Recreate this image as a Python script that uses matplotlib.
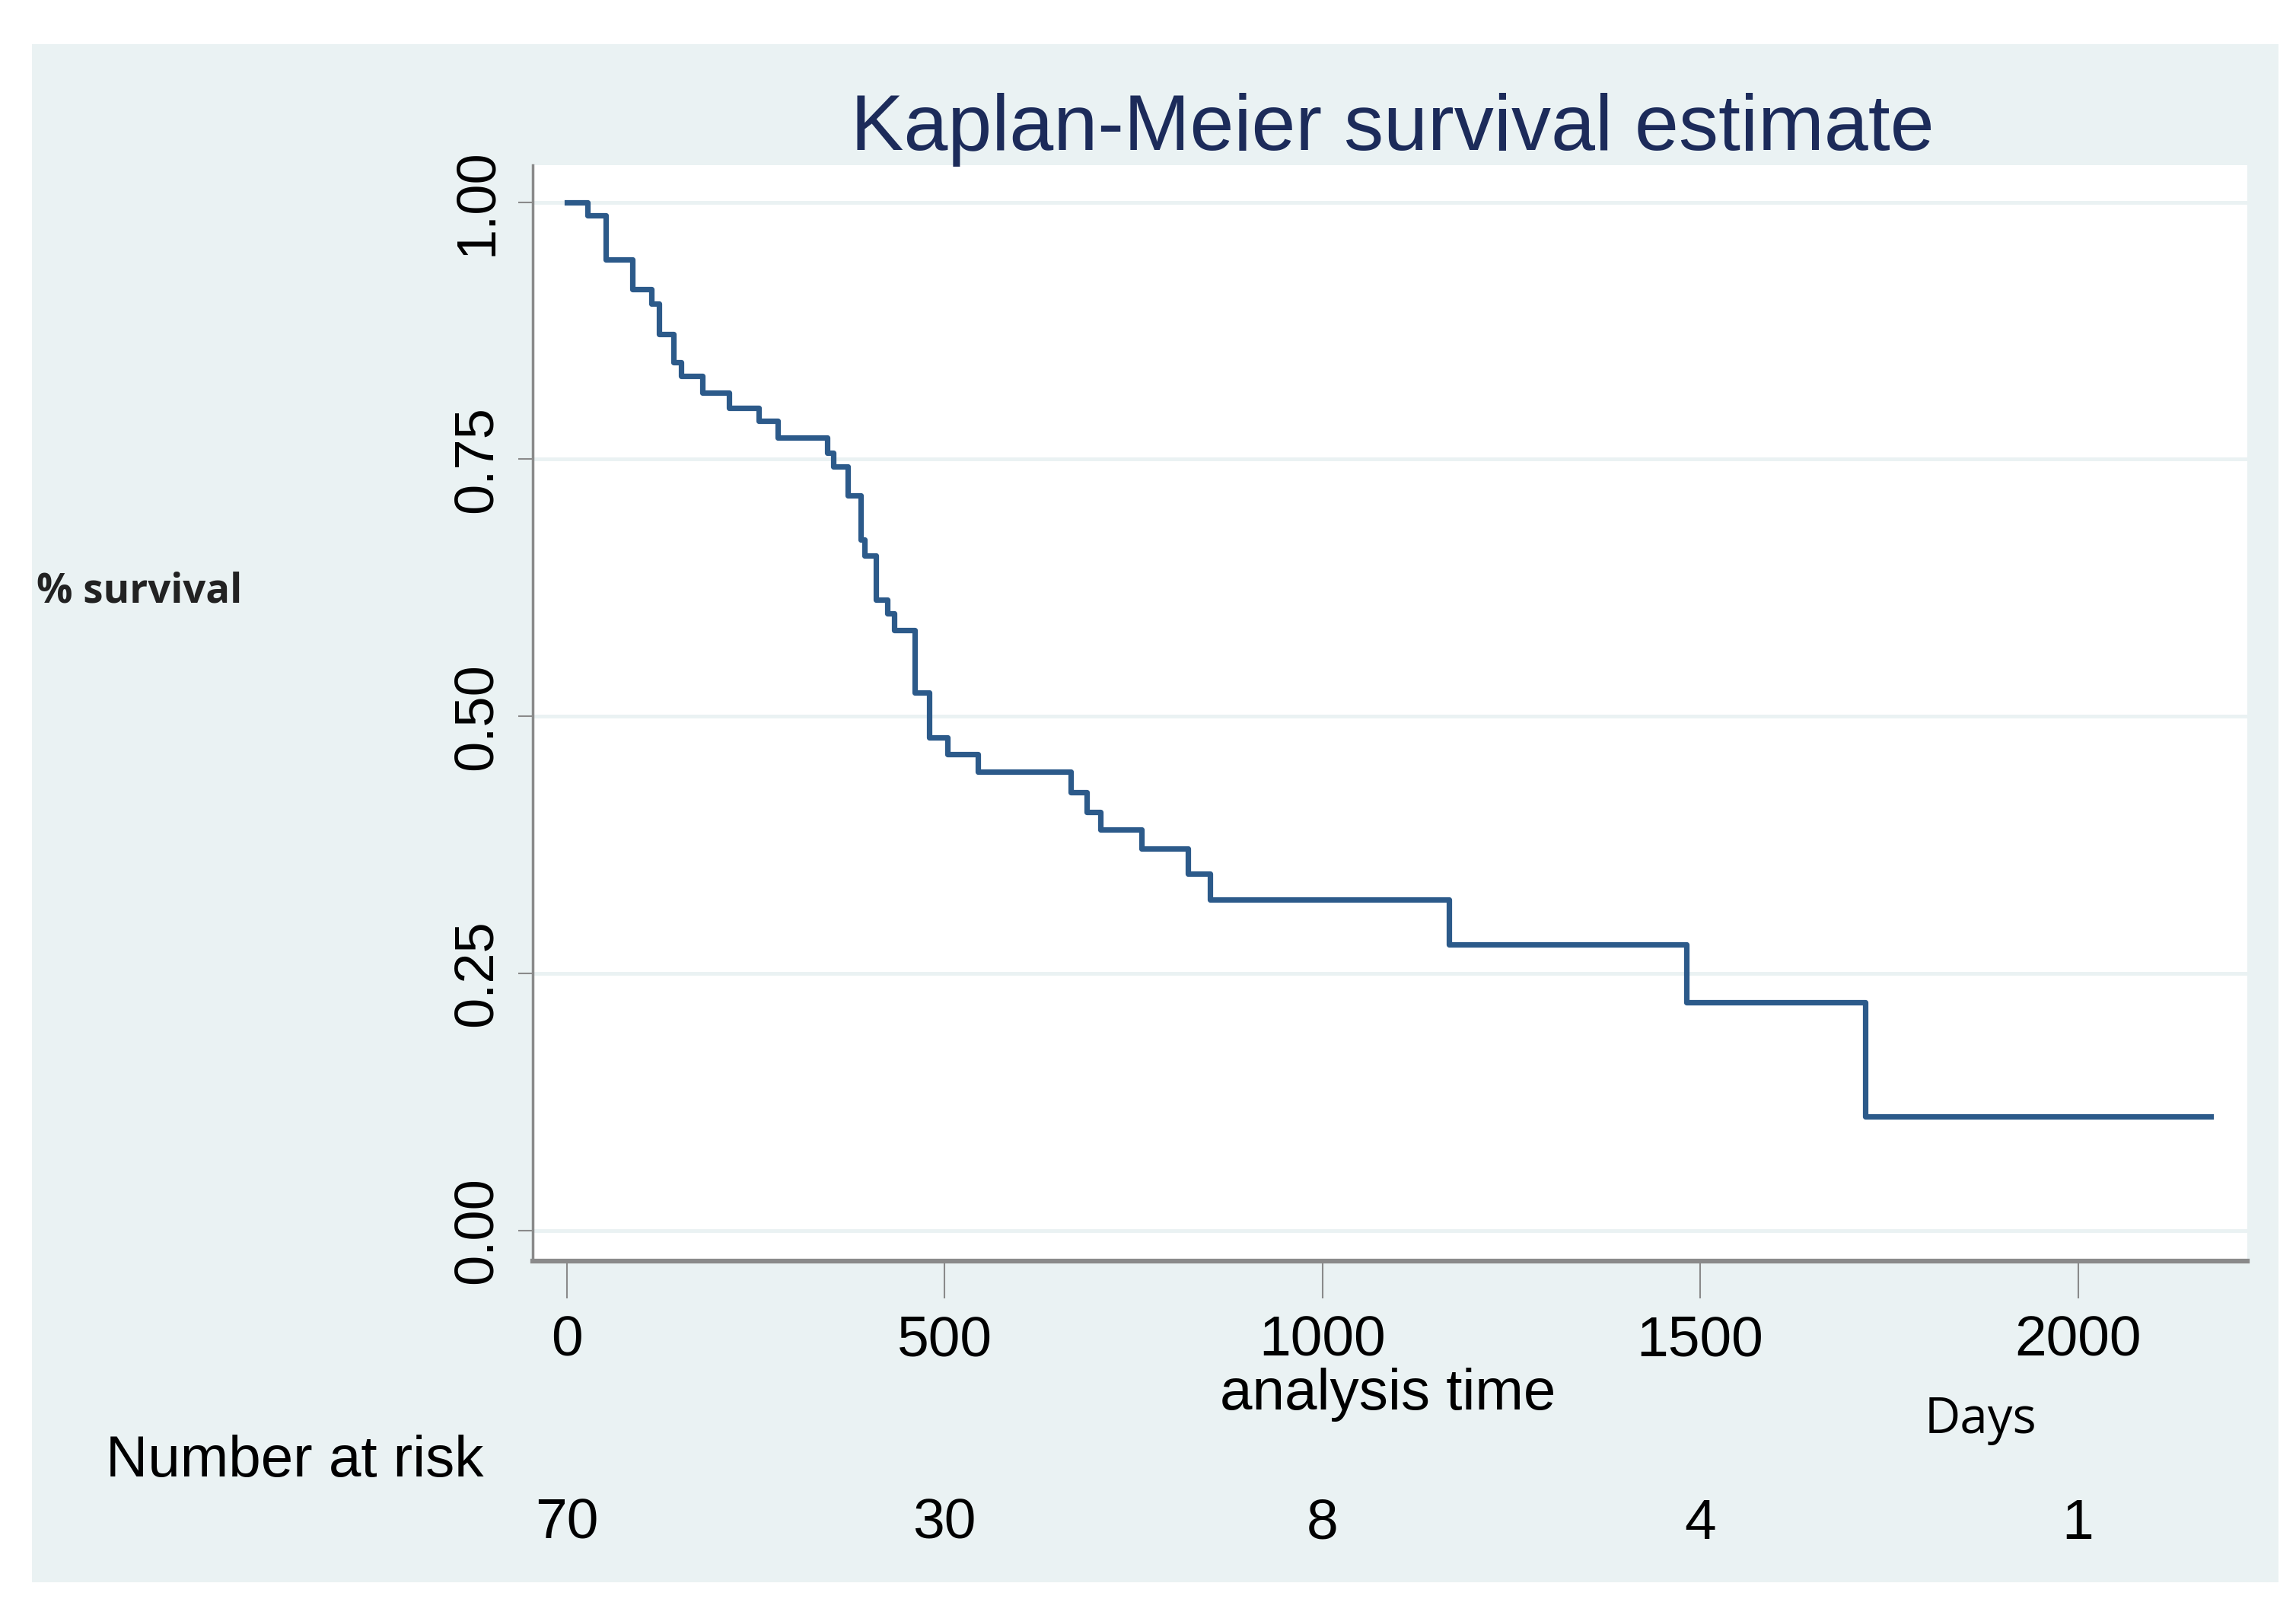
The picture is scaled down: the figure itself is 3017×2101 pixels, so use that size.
import numpy as np
import matplotlib.pyplot as plt
from matplotlib.patches import Rectangle
from matplotlib.transforms import blended_transform_factory

# step times (days) and survival estimate after each step
times = [0, 28, 52, 87, 112, 122, 141, 151, 180, 215, 254, 279, 345, 353, 372, 389, 394,
         409, 424, 433, 461, 480, 504, 544, 667, 688, 706, 761, 822, 851, 1168, 1482, 1718, 2176]
surv = [1.0, 0.987, 0.944, 0.915, 0.901, 0.872, 0.844, 0.831, 0.815, 0.800, 0.787, 0.771,
        0.756, 0.743, 0.715, 0.672, 0.656, 0.613, 0.600, 0.584, 0.523, 0.479, 0.463, 0.446,
        0.426, 0.407, 0.390, 0.371, 0.347, 0.322, 0.278, 0.2215, 0.111, 0.111]

xticks = [0, 500, 1000, 1500, 2000]
yticks = [0.0, 0.25, 0.5, 0.75, 1.0]
ytick_labels = ["0.00", "0.25", "0.50", "0.75", "1.00"]
at_risk = [70, 30, 8, 4, 1]

bg = "#EAF2F3"
plt.rcParams["font.family"] = ["Liberation Sans", "DejaVu Sans"]

fig = plt.figure(figsize=(30.17, 21.01), dpi=100)
fig.patch.set_facecolor("white")
fig.patches.append(Rectangle((0.014, 0.0105), 0.9785, 0.962, transform=fig.transFigure,
                             facecolor=bg, edgecolor="none", zorder=-5))

ax = fig.add_axes([0.232, 0.2113, 0.7468, 0.6854])
ax.set_facecolor("white")
ax.step(times, surv, where="post", color="#2c5a8a", lw=5.2, zorder=3)

ax.set_xlim(-45, 2224)
ax.set_ylim(-0.03, 1.036)
ax.set_xticks(xticks)
ax.set_yticks(yticks)
ax.set_yticklabels(ytick_labels, rotation=90, va="center")
ax.tick_params(axis="y", length=14, width=1.5, color="#8a8a8a", pad=14, labelsize=52)
ax.tick_params(axis="x", length=35, width=1.5, color="#8a8a8a", pad=16, labelsize=54)
ax.grid(axis="y", color=bg, lw=3.5, zorder=1)
ax.grid(axis="x", visible=False)

for side in ["top", "right"]:
    ax.spines[side].set_visible(False)
ax.spines["left"].set_color("#8a8a8a")
ax.spines["left"].set_linewidth(2.5)
ax.spines["bottom"].set_color("#8a8a8a")
ax.spines["bottom"].set_linewidth(4.5)

fig.text(0.6065, 0.919, "Kaplan-Meier survival estimate", ha="center", va="center",
         fontsize=75, color="#1c2b5a")
fig.text(0.6046, 0.128, "analysis time", ha="center", va="center", fontsize=55)
fig.text(0.8625, 0.112, "Days", ha="center", va="center", fontsize=47,
         family=["Open Sans", "DejaVu Sans"])
fig.text(0.016, 0.630, "% survival", ha="left", va="center", fontsize=38,
         fontweight="bold", color="#222222", family=["Open Sans", "DejaVu Sans"])
fig.text(0.046, 0.086, "Number at risk", ha="left", va="center", fontsize=55)

tr = blended_transform_factory(ax.transData, fig.transFigure)
for x, n in zip(xticks, at_risk):
    ax.text(x, 0.047, str(n), transform=tr, ha="center", va="center", fontsize=54)

fig.savefig("out.png", dpi=100)
